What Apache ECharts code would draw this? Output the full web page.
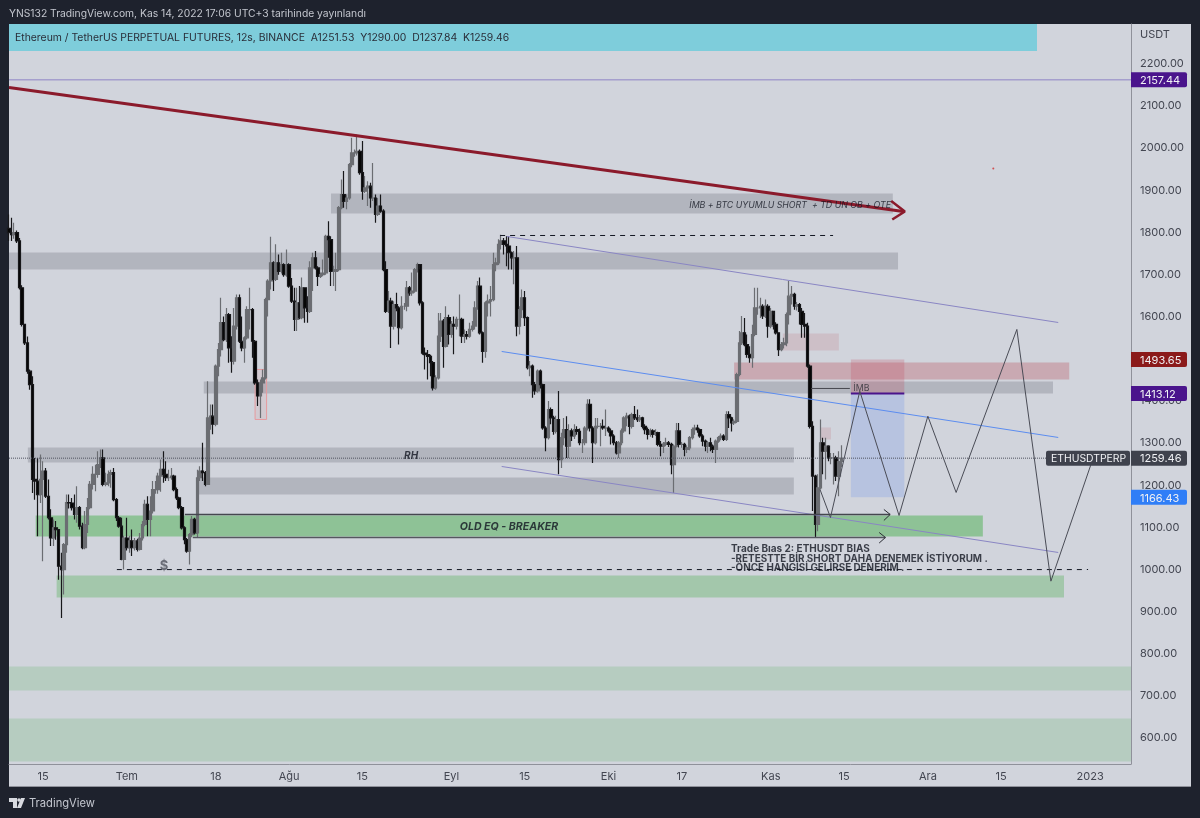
<!DOCTYPE html>
<html>
<head>
<meta charset="utf-8">
<style>html,body{margin:0;padding:0;background:#1e222d}#chart{width:1200px;height:818px}</style>
<script src="https://cdn.jsdelivr.net/npm/echarts@6/dist/echarts.min.js"></script>
</head>
<body>
<div id="chart"></div>
<script>
// 12h candles, first one opens Jun 8 2022 12:00 UTC (day -22.5 from Jul 1). Each candle opens at the previous close.
const firstOpen = 1805;
const firstDay = -22.5;
const closes = [
1795,1790,1795,1775,1664,1577,1533,1466,1434,1209,1205,1173,1209,1229,1169,1118,1070,1094,1090,1003,
995,1054,1154,1153,1142,1126,1142,1098,1047,1102,1142,1197,1221,1221,1244,1260,1197,1201,1221,1225,
1161,1118,1098,1019,1070,1047,1063,1047,1063,1043,1070,1102,1150,1114,1134,1185,1185,1217,1233,1221,
1213,1213,1217,1185,1165,1142,1094,1066,1039,1078,1114,1082,1213,1229,1225,1197,1355,1359,1340,1478,
1517,1581,1541,1600,1521,1490,1573,1640,1537,1521,1545,1612,1612,1537,1438,1407,1438,1450,1636,1680,
1723,1684,1723,1703,1719,1695,1719,1668,1632,1589,1628,1593,1664,1616,1608,1711,1735,1711,1691,1695,
1699,1786,1778,1703,1703,1707,1854,1885,1869,1877,1956,1984,1984,1988,1937,1893,1901,1905,1877,1877,
1838,1858,1846,1707,1608,1632,1573,1624,1616,1569,1620,1620,1664,1652,1656,1707,1719,1628,1509,1505,
1501,1486,1426,1450,1549,1585,1525,1593,1553,1577,1573,1589,1589,1549,1553,1549,1565,1573,1616,1668,
1557,1513,1628,1632,1636,1719,1723,1767,1775,1767,1763,1747,1735,1735,1573,1612,1640,1593,1474,1478,
1434,1419,1466,1434,1331,1308,1375,1355,1323,1351,1256,1308,1327,1288,1324,1312,1327,1323,1296,1296,
1331,1387,1331,1296,1335,1335,1335,1331,1331,1324,1312,1296,1272,1296,1324,1355,1359,1335,1363,1355,
1351,1355,1335,1327,1316,1324,1316,1320,1292,1288,1292,1296,1292,1244,1288,1324,1292,1292,1280,1284,
1308,1327,1331,1327,1312,1300,1288,1296,1288,1280,1300,1308,1312,1304,1363,1355,1343,1347,1458,1533,
1557,1529,1506,1498,1553,1616,1616,1620,1597,1620,1573,1608,1577,1557,1517,1529,1533,1600,1644,1648,
1620,1624,1608,1577,1573,1478,1335,1217,1102,1189,1296,1276,1288,1260,1260,1260,1217,1251.53,1259.46
];
const highs = [
1838,1830,1818,1800,1782,1670,1577,1548,1470,1454,1260,1260,1268,1252,1236,1209,1138,1114,1110,1090,
1035,1058,1173,1173,1165,1173,1193,1146,1106,1134,1165,1205,1240,1244,1276,1280,1280,1225,1230,1232,
1236,1165,1122,1118,1075,1118,1075,1090,1070,1068,1082,1110,1161,1169,1169,1205,1205,1225,1256,1276,
1252,1232,1236,1220,1190,1168,1146,1098,1070,1082,1122,1118,1232,1240,1296,1229,1442,1387,1387,1482,
1533,1640,1596,1616,1604,1549,1616,1648,1648,1596,1549,1620,1664,1616,1540,1446,1446,1470,1640,1684,
1785,1727,1767,1743,1747,1722,1755,1722,1687,1664,1664,1668,1688,1664,1644,1727,1747,1751,1715,1700,
1731,1790,1822,1786,1716,1747,1858,1921,1941,1885,1960,2020,1992,2028,1992,2012,1929,1917,1913,1960,
1885,1877,1885,1850,1727,1656,1640,1632,1652,1620,1644,1628,1680,1668,1700,1711,1723,1707,1632,1522,
1516,1505,1490,1456,1604,1604,1590,1620,1600,1585,1596,1595,1648,1593,1565,1561,1581,1585,1632,1680,
1688,1560,1632,1648,1668,1747,1735,1779,1790,1782,1786,1786,1750,1751,1763,1620,1660,1656,1596,1490,
1482,1440,1470,1470,1436,1335,1395,1380,1360,1360,1419,1320,1355,1359,1340,1330,1340,1335,1330,1305,
1335,1399,1399,1335,1355,1355,1343,1351,1375,1335,1330,1316,1300,1300,1330,1359,1367,1363,1367,1383,
1375,1362,1358,1340,1332,1330,1328,1328,1322,1300,1298,1308,1300,1296,1292,1343,1343,1298,1296,1290,
1312,1332,1339,1339,1330,1316,1304,1300,1308,1292,1304,1312,1318,1316,1371,1371,1358,1352,1462,1561,
1597,1592,1553,1525,1576,1664,1664,1640,1625,1636,1625,1616,1600,1582,1557,1535,1545,1605,1680,1668,
1652,1630,1628,1616,1604,1581,1482,1347,1220,1221,1351,1308,1308,1290,1272,1272,1265,1276,1290
];
const lows = [
1775,1775,1780,1770,1660,1572,1528,1460,1422,1177,1161,1074,1153,1015,1165,1114,1051,1051,1066,971,
880,936,1035,1140,1135,1114,1106,1090,1043,1043,1082,1138,1185,1181,1213,1236,1193,1193,1193,1189,
1157,1110,1094,1017,995,1040,1035,1027,1040,1038,1040,1064,1098,1074,1074,1128,1175,1175,1180,1201,
1205,1205,1208,1181,1160,1138,1090,1055,1035,1007,1072,1078,1070,1205,1205,1193,1197,1327,1316,1335,
1454,1501,1537,1535,1486,1462,1482,1565,1533,1513,1486,1541,1565,1498,1434,1383,1355,1415,1446,1596,
1660,1656,1680,1695,1698,1690,1690,1664,1628,1561,1561,1589,1589,1581,1581,1604,1656,1707,1668,1687,
1691,1695,1735,1668,1668,1656,1703,1850,1854,1850,1873,1950,1975,1978,1932,1873,1889,1858,1854,1870,
1818,1834,1842,1703,1604,1604,1521,1565,1608,1529,1565,1612,1608,1645,1645,1652,1700,1622,1505,1470,
1446,1454,1420,1422,1446,1535,1474,1522,1529,1545,1506,1565,1549,1533,1533,1541,1545,1560,1565,1612,
1553,1486,1498,1596,1596,1632,1703,1718,1755,1743,1715,1707,1707,1672,1549,1553,1592,1573,1470,1454,
1403,1410,1415,1425,1327,1276,1304,1340,1315,1318,1221,1236,1290,1260,1260,1300,1305,1315,1290,1272,
1290,1325,1323,1248,1292,1330,1288,1327,1312,1320,1292,1290,1268,1260,1290,1320,1335,1316,1330,1350,
1345,1345,1330,1316,1304,1310,1308,1312,1288,1264,1272,1288,1286,1221,1177,1285,1285,1284,1264,1272,
1278,1304,1315,1320,1308,1288,1276,1272,1276,1272,1248,1296,1302,1300,1300,1331,1323,1338,1343,1454,
1528,1525,1498,1486,1474,1549,1600,1592,1590,1592,1545,1568,1565,1553,1502,1513,1520,1525,1577,1624,
1612,1610,1577,1545,1545,1474,1330,1134,1070,1086,1185,1221,1209,1252,1245,1197,1205,1169,1237.84
];

// x axis counts days from Jul 1 2022
const tickDays = [-16, 0, 17, 31, 45, 62, 76, 92, 106, 123, 137, 153, 167, 184];
const tickLabels = ['15', 'Tem', '18', 'Ağu', '15', 'Eyl', '15', 'Eki', '17', 'Kas', '15', 'Ara', '15', '2023'];
const priceTicks = [600, 700, 800, 900, 1000, 1100, 1200, 1300, 1400, 1500, 1600, 1700, 1800, 1900, 2000, 2100, 2200];

// zones: [startDay, endDay, top, bottom]
const grayZones = [
    [39.0, 146.3, 1887.7, 1840.3],
    [-22.5, 147.3, 1747.7, 1707.3],
    [14.7, 176.9, 1441.5, 1413],
    [-18.9, 127.4, 1284.8, 1249.2],
    [13.6, 127.4, 1213.6, 1173.3]
];
const greenZones = [[-17.4, 163.5, 1123.4, 1073.6]];
const midGreenZones = [[-13.4, 179.0, 981, 928.8]];
const paleGreenZones = [
    [-22.5, 191.8, 765, 708],
    [-22.5, 191.8, 641.6, 539.5]
];
const redZones = [[116.0, 180.0, 1486.6, 1446.2]];
const paleRedZones = [
    [125.3, 136.0, 1555.4, 1515],
    [132.4, 134.5, 1332.3, 1303.8]
];
const boxZones = [[24.5, 26.7, 1470, 1351.3]];

const stopPrice = 1493.65;
const entryPrice = 1413.12;
const targetPrice = 1166.43;
const lastPrice = 1259.46;
const alertPrice = 2157.44;
const positionDays = [138.3, 148.5];

// drawn lines as [day, price]
const redTrend = [[-22.5, 2139.3], [148.3, 1845]];
const redArrow = [[146, 1870], [148.6, 1845], [146.2, 1826]];
const channelTop = [[72.6, 1785.7], [177.9, 1581.5]];
const channelMid = [[71.6, 1512.7], [177.9, 1308.6]];
const channelLow = [[71.6, 1239.7], [177.9, 1035.6]];
const highDash = [[71.3, 1788], [134.9, 1788]];
const lowDash = [[-1.9, 995], [183.6, 995]];
const breakerTop = [[11.1, 1125.8], [145.8, 1125.8]];
const breakerTopArrow = [[144.6, 1137.7], [145.8, 1125.8], [144.6, 1111.6]];
const breakerLow = [[12.6, 1071.2], [144.9, 1071.2]];
const breakerLowArrow = [[143.7, 1083], [144.9, 1071.2], [143.7, 1058]];
const imbLine = [[130.7, 1424.9], [138.1, 1424.9]];
const scenario = [[132.4, 1185.1], [134.4, 1118.7], [140, 1418.5], [147.5, 1123.4], [153, 1359], [158.4, 1178], [170, 1565], [176.5, 967.5], [184.8, 1268]];

const font = 'Inter, Roboto, sans-serif';

const candles = closes.map((c, i) => [
    firstDay + i / 2,
    i === 0 ? firstOpen : closes[i - 1],
    c, lows[i], highs[i]
]);

function zoneSeries(zones, fill, border) {
    return {
        type: 'line', data: [], z: 5, silent: true,
        markArea: {
            silent: true,
            itemStyle: {color: fill, borderColor: border || 'transparent', borderWidth: border ? 1 : 0},
            data: zones.map(z => [{xAxis: z[0], yAxis: z[2]}, {xAxis: z[1], yAxis: z[3]}])
        }
    };
}
function lineSeries(points, color, width, type) {
    return {
        type: 'line', symbol: 'none', silent: true, z: 6,
        lineStyle: {color, width, type: type || 'solid'},
        data: points
    };
}
function textSeries(day, price, text, style) {
    return {
        type: 'scatter', symbolSize: 0, silent: true, z: 7,
        data: [[day, price]],
        label: Object.assign({show: true, formatter: text, position: 'inside', fontFamily: font, color: '#131722'}, style)
    };
}

const option = {
    animation: false,
    backgroundColor: '#1e222d',
    grid: {left: 9, right: 69, top: 24, bottom: 54, show: true, backgroundColor: '#d1d4dc', borderWidth: 0},
    xAxis: {
        type: 'value',
        min: firstDay, max: 191.8,
        splitLine: {show: false},
        axisLine: {show: true, onZero: false, lineStyle: {color: '#8f919a', width: 1}},
        axisTick: {show: false},
        axisLabel: {
            customValues: tickDays,
            formatter: v => tickLabels[tickDays.indexOf(v)],
            color: '#434651', fontSize: 11, fontFamily: font, margin: 7
        }
    },
    yAxis: {
        type: 'value', position: 'right',
        min: 533.5, max: 2290,
        splitLine: {show: false},
        axisLine: {show: true, onZero: false, lineStyle: {color: '#8f919a', width: 1}},
        axisTick: {show: false},
        axisLabel: {
            customValues: priceTicks,
            formatter: v => '{p|' + v.toFixed(2) + '}',
            rich: {p: {color: '#434651', fontSize: 11, fontFamily: font, padding: [4, 0, 0, 0]}},
            margin: 9
        }
    },
    series: [
        {
            type: 'candlestick', z: 2, barWidth: 3, silent: true,
            encode: {x: 0, y: [1, 2, 3, 4]},
            itemStyle: {color: '#6b6d72', color0: '#050505', borderColor: '#6b6d72', borderColor0: '#17171a', borderWidth: 1.2},
            data: candles
        },
        zoneSeries(grayZones, 'rgba(120,123,134,0.35)'),
        zoneSeries(greenZones, 'rgba(76,175,80,0.5)'),
        zoneSeries(midGreenZones, 'rgba(76,175,80,0.35)'),
        zoneSeries(paleGreenZones, 'rgba(76,175,80,0.2)'),
        zoneSeries(redZones, 'rgba(178,40,51,0.25)'),
        zoneSeries(paleRedZones, 'rgba(178,40,51,0.12)'),
        zoneSeries(boxZones, 'rgba(230,90,90,0.08)', '#e69a9e'),
        zoneSeries([[positionDays[0], positionDays[1], stopPrice, entryPrice]], 'rgba(190,60,80,0.22)'),
        zoneSeries([[positionDays[0], positionDays[1], entryPrice, targetPrice]], 'rgba(80,130,240,0.2)'),
        lineSeries([[firstDay, alertPrice], [191.8, alertPrice]], '#8f84c6', 1),
        lineSeries([[firstDay, lastPrice], [191.8, lastPrice]], '#50535e', 1, 'dotted'),
        lineSeries(redTrend, '#8b1a2b', 3),
        lineSeries(redArrow, '#8b1a2b', 2.5),
        lineSeries(channelTop, '#8a86c4', 1),
        lineSeries(channelMid, '#5c8df0', 1),
        lineSeries(channelLow, '#8a86c4', 1),
        lineSeries(highDash, '#131722', 1, [5, 5]),
        lineSeries(lowDash, '#131722', 1, [5, 5]),
        lineSeries(breakerTop, '#45474f', 1.5),
        lineSeries(breakerTopArrow, '#2a2c33', 1),
        lineSeries(breakerLow, '#55575f', 1.5),
        lineSeries(breakerLowArrow, '#2a2c33', 1),
        lineSeries(imbLine, '#45474f', 1),
        lineSeries([[positionDays[0], entryPrice], [positionDays[1], entryPrice]], '#4a148c', 2),
        lineSeries(scenario, '#4a4c56', 1),
        textSeries(126.7, 1860, 'İMB + BTC UYUMLU SHORT  + TD UN OB + OTE', {fontSize: 8.8, fontStyle: 'italic'}),
        textSeries(54.3, 1265, 'RH', {fontSize: 10, fontStyle: 'italic', fontWeight: 'bold'}),
        textSeries(73, 1096, 'OLD EQ - BREAKER', {fontSize: 10.6, fontStyle: 'italic', fontWeight: 'bold'}),
        textSeries(140.3, 1424, 'İMB', {fontSize: 8.8, color: '#2e3036'}),
        textSeries(7.1, 1003, '$', {fontSize: 13, fontWeight: 'bold', color: '#50535e'}),
        textSeries(115.4, 1045, 'Trade Bıas 2: ETHUSDT BIAS', {position: 'right', distance: 0, fontSize: 10, fontWeight: 'bold'}),
        textSeries(115.4, 1019, '-RETESTTE BİR SHORT DAHA DENEMEK İSTİYORUM .', {position: 'right', distance: 0, fontSize: 9.9, fontWeight: 'bold'}),
        textSeries(115.4, 997.6, '-ÖNCE HANGİSİ GELİRSE DENERİM .', {position: 'right', distance: 0, fontSize: 9.9, fontWeight: 'bold'}),
        {type: 'scatter', symbolSize: 2, silent: true, z: 6, itemStyle: {color: '#d0302f'}, data: [[165.5, 1947]]}
    ],
    graphic: {elements: [
        {type: 'rect', z: -10, silent: true, shape: {x: 1131, y: 24, width: 60, height: 763}, style: {fill: '#d1d4dc'}},
        {type: 'rect', z: -10, silent: true, shape: {x: 9, y: 764, width: 1182, height: 23}, style: {fill: '#d1d4dc'}},
        {type: 'rect', z: -9, silent: true, shape: {x: 9, y: 786, width: 1182, height: 1}, style: {fill: '#8f919a'}}
    ]}
};

const chart = echarts.init(document.getElementById('chart'), null, {renderer: 'canvas'});
chart.setOption(option);

// flags on the price scale follow the axis
const flags = [
    [alertPrice, '#4a148c'], [stopPrice, '#8b1a1a'], [entryPrice, '#4a148c'],
    [lastPrice, '#3f424d'], [targetPrice, '#2f7ef7']
];
const overlays = [];
flags.forEach(f => {
    const y = chart.convertToPixel({yAxisIndex: 0}, f[0]);
    overlays.push({type: 'rect', z: 60, silent: true, shape: {x: 1131, y: y - 7.5, width: 56, height: 15, r: [0, 2, 2, 0]}, style: {fill: f[1]}});
    overlays.push({type: 'text', z: 61, silent: true, x: 1140, y: y + 1, style: {text: f[0].toFixed(2), fill: '#f0f1f4', fontSize: 11, fontFamily: font, verticalAlign: 'middle'}});
});
const lastY = chart.convertToPixel({yAxisIndex: 0}, lastPrice);
overlays.push(
    {type: 'rect', z: 60, silent: true, shape: {x: 1046, y: lastY - 7.5, width: 84, height: 15, r: 2}, style: {fill: '#3f424d'}},
    {type: 'text', z: 61, silent: true, x: 1051, y: lastY + 1, style: {text: 'ETHUSDTPERP', fill: '#f0f1f4', fontSize: 10.4, fontFamily: font, verticalAlign: 'middle'}},
    {type: 'rect', z: 40, silent: true, shape: {x: 9, y: 24, width: 1028, height: 27}, style: {fill: '#7ecddb'}},
    {type: 'text', z: 41, silent: true, x: 15, y: 37.5, style: {text: 'Ethereum / TetherUS PERPETUAL FUTURES, 12s, BINANCE  A1251.53  Y1290.00  D1237.84  K1259.46', fill: '#2a2e39', fontSize: 10.4, fontFamily: font, verticalAlign: 'middle'}},
    {type: 'text', z: 41, silent: true, x: 9, y: 14, style: {text: 'YNS132 TradingView.com, Kas 14, 2022 17:06 UTC+3 tarihinde yayınlandı', fill: '#c3c6ce', fontSize: 10.3, fontFamily: font, verticalAlign: 'middle'}},
    {type: 'text', z: 41, silent: true, x: 1140, y: 34.5, style: {text: 'USDT', fill: '#434651', fontSize: 11, fontFamily: font, verticalAlign: 'middle'}},
    {type: 'text', z: 41, silent: true, x: 29, y: 803.5, style: {text: 'TradingView', fill: '#c3c6ce', fontSize: 11.2, fontFamily: font, verticalAlign: 'middle'}},
    {type: 'polygon', z: 41, silent: true, shape: {points: [[9, 798], [17, 798], [17, 808], [13, 808], [13, 802], [9, 802]]}, style: {fill: '#d8dae0'}},
    {type: 'circle', z: 41, silent: true, shape: {cx: 19, cy: 800, r: 1.8}, style: {fill: '#d8dae0'}},
    {type: 'polygon', z: 41, silent: true, shape: {points: [[21, 798], [25, 798], [21, 808], [17, 808]]}, style: {fill: '#d8dae0'}}
);
chart.setOption({graphic: {elements: option.graphic.elements.concat(overlays)}});
</script>
</body>
</html>
